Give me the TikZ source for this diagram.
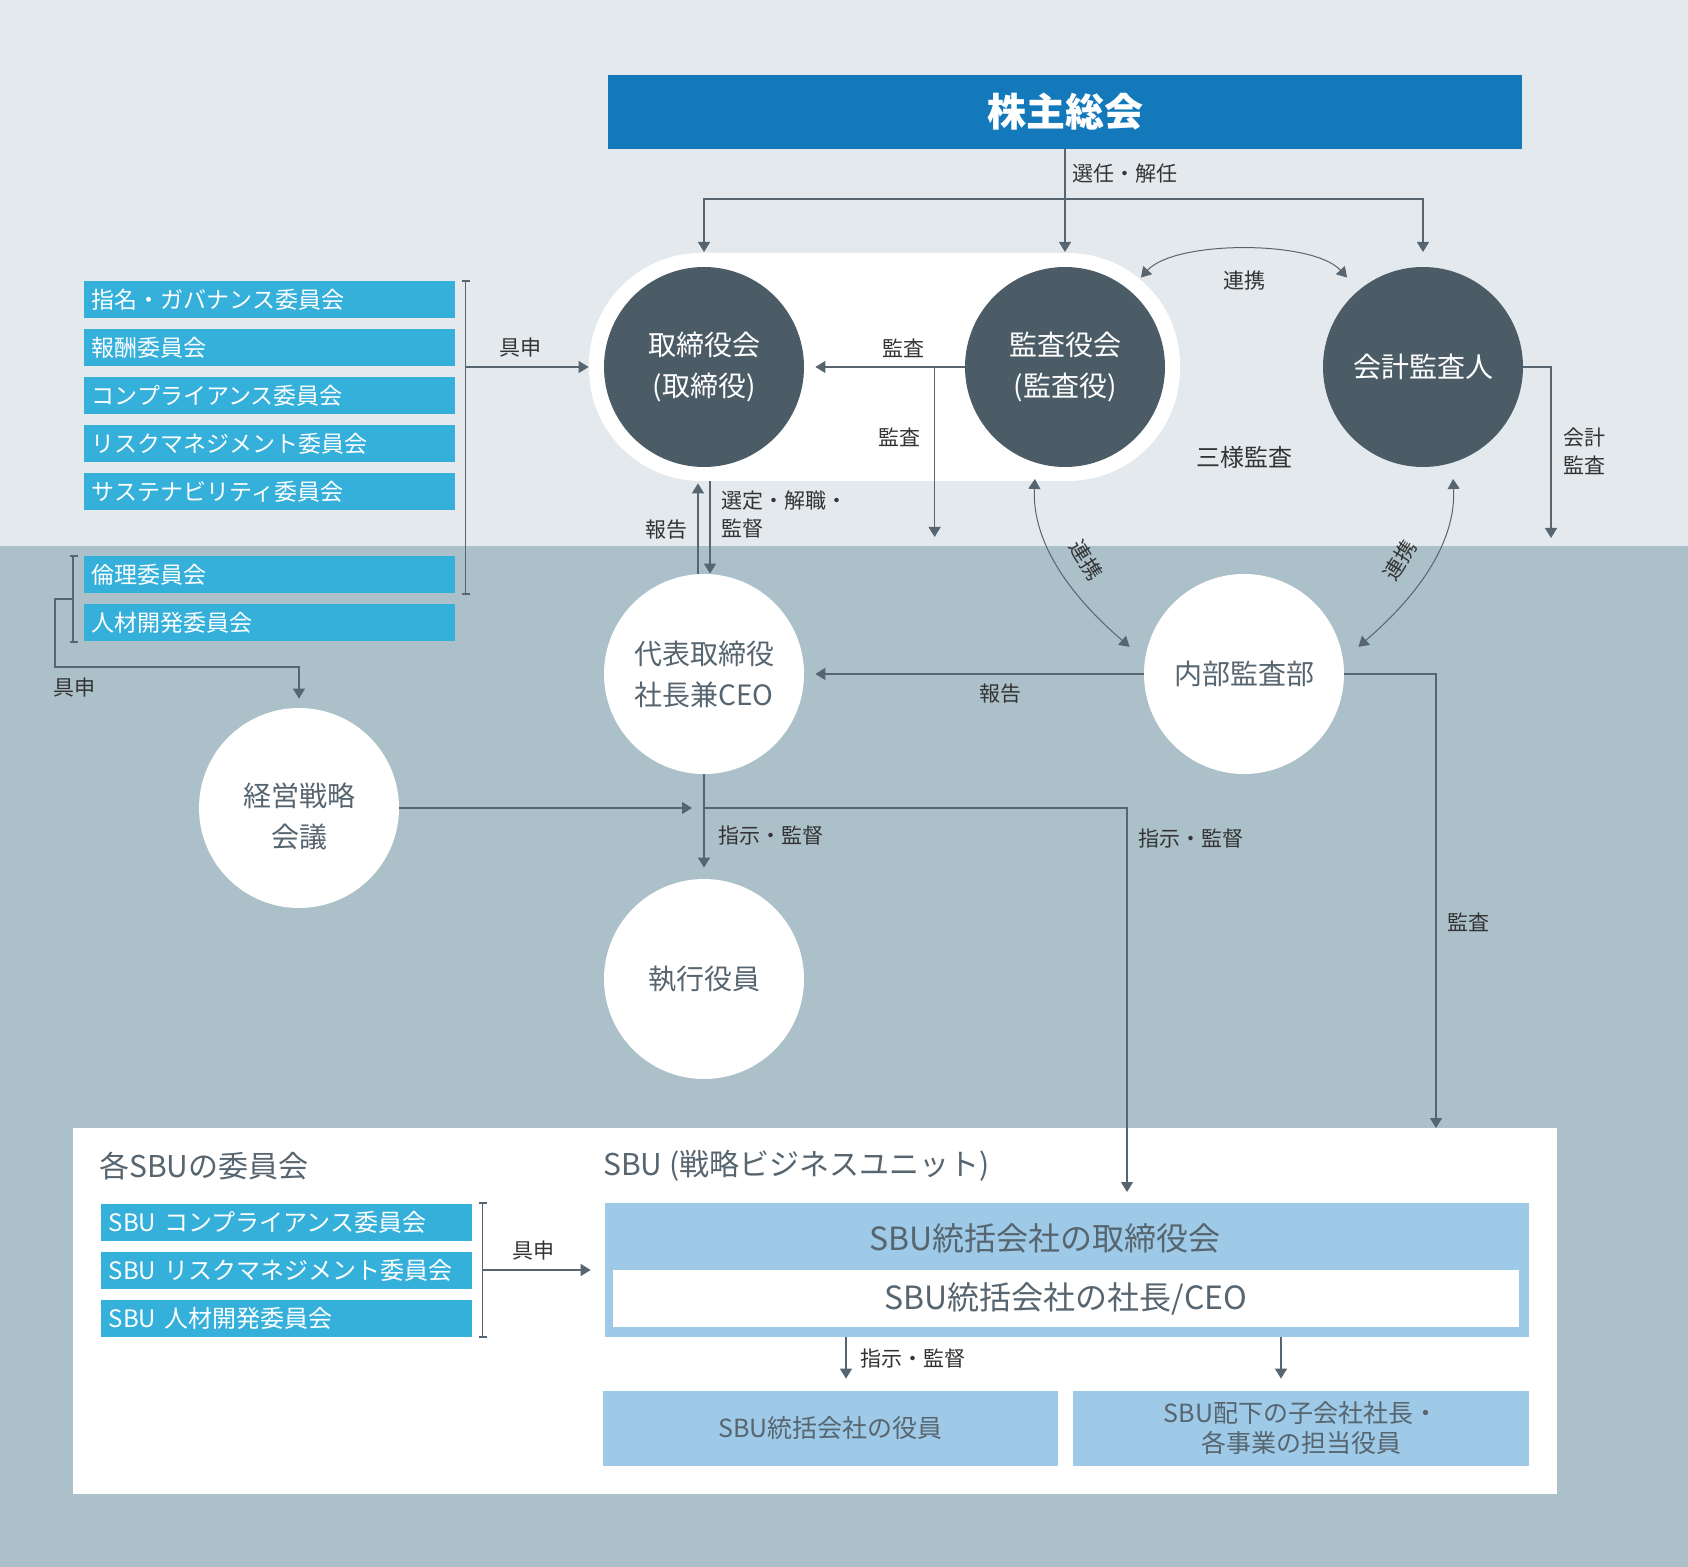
\documentclass[tikz,border=0pt]{standalone}
\usepackage{fontspec}
\setmainfont{Noto Sans CJK JP}
\usetikzlibrary{arrows.meta}

\definecolor{topbg}{HTML}{E4E9ED}
\definecolor{lowbg}{HTML}{ACC0CA}
\definecolor{gmblue}{HTML}{1479BA}
\definecolor{boardgray}{HTML}{4B5C67}
\definecolor{cmtblue}{HTML}{35B0DA}
\definecolor{sbublue}{HTML}{9ECAE7}
\definecolor{linecol}{HTML}{56656F}
\definecolor{softtext}{HTML}{56656F}
\definecolor{labeltext}{HTML}{333333}

\tikzset{
  dark/.style={circle, fill=boardgray, text=white, minimum size=100pt, inner sep=0pt, align=center, font=\fontsize{14}{20.5}\selectfont},
  light/.style={circle, fill=white, text=softtext, minimum size=100pt, inner sep=0pt, align=center, font=\fontsize{14}{20.5}\selectfont},
  cmt/.style={fill=cmtblue, text=white, anchor=west, minimum height=18.5pt, text width=178pt, inner xsep=3.75pt, inner ysep=0pt, align=left, font=\fontsize{11.5}{13}\selectfont},
  sbucmt/.style={cmt, font=\fontsize{12}{13}\selectfont},
  sbubox/.style={fill=sbublue, text=softtext, inner sep=0pt, align=center},
  lbl/.style={text=labeltext, inner sep=0pt, font=\fontsize{10.5}{14}\selectfont},
  line/.style={draw=linecol, line width=0.65pt},
  conn/.style={line, -{Triangle[length=5pt,width=6pt]}},
  twoway/.style={line, line width=0.5pt, {Triangle[length=5pt,width=6pt]}-{Triangle[length=5pt,width=6pt]}},
}

\begin{document}
\begin{tikzpicture}[x=0.5pt, y=-0.5pt]
    \useasboundingbox (0,0) rectangle (1688,1567);
    \fill[topbg] (0,0) rectangle (1688,546);
    \fill[lowbg] (0,546) rectangle (1688,1567);

    \fill[white, rounded corners=56pt] (589,253) rectangle (1180,481); %board and auditors sit on one white band
    \fill[white] (73,1128) rectangle (1557,1494); %SBU panel

    \node[fill=gmblue, text=white, minimum width=457pt, minimum height=37pt, font=\fontsize{19.5}{22}\selectfont\bfseries] (gm) at (1065,112) {株主総会};

    \node[dark] (board) at (704,367) {取締役会\\(取締役)};
    \node[dark] (auditors) at (1065,367) {監査役会\\(監査役)};
    \node[dark] (accountant) at (1423,367) {会計監査人};
    \node[light] (ceo) at (704,674) {代表取締役\\社長兼CEO};
    \node[light] (internal) at (1244,674) {内部監査部};
    \node[light, text height=40.5pt] (strategy) at (299,808) {経営戦略\\会議};
    \node[light] (officers) at (704,979) {執行役員};

    \node[cmt] (cmt1) at (84,300) {指名・ガバナンス委員会};
    \node[cmt] (cmt2) at (84,348) {報酬委員会};
    \node[cmt] (cmt3) at (84,396) {コンプライアンス委員会};
    \node[cmt] (cmt4) at (84,444) {リスクマネジメント委員会};
    \node[cmt] (cmt5) at (84,492) {サステナビリティ委員会};
    \node[cmt] (cmt6) at (84,575) {倫理委員会};
    \node[cmt] (cmt7) at (84,623) {人材開発委員会};

    % shareholders
    \coordinate (selrow) at (0,199);
    \coordinate (pilltop) at (0,252);
    \draw[conn] (gm.south) -- (gm.south |- pilltop);
    \draw[conn] (gm.south |- selrow) -| (board |- pilltop);
    \draw[conn] (gm.south |- selrow) -| (accountant |- pilltop);
    \node[lbl] (selectlbl) at (1125,174) {選任・解任};

    % committees
    \draw[line] ([xshift=3pt]cmt1.north east) -- ++(4pt,0) ([xshift=5pt]cmt1.north east) -- ([xshift=5pt]cmt6.south east) ([xshift=3pt]cmt6.south east) -- ++(4pt,0);
    \draw[conn, shorten >=7.5pt] ([xshift=5pt]cmt1.east |- board.west) -- (board.west);
    \node[lbl] (proposelbl) at (520,348) {具申};

    \draw[line] ([xshift=-7pt]cmt6.north west) -- ++(4pt,0) ([xshift=-5.5pt]cmt6.north west) -- ([xshift=-5.5pt]cmt7.south west) ([xshift=-7pt]cmt7.south west) -- ++(4pt,0);
    \coordinate (ethicsjoin) at (73,599);
    \draw[conn] (ethicsjoin) -- ++(-9pt,0) -- ++(0,-34pt) -| ([yshift=4.5pt]strategy.north);
    \node[lbl] (proposelbl2) at (75,688) {具申};

    % audit
    \draw[conn, shorten >=5.5pt] (auditors.west) -- (board.east);
    \draw[conn] ([xshift=-15pt]auditors.west) -- ++(0,-85pt);
    \node[lbl] (auditlbl1) at (903,348) {監査};
    \node[lbl] (auditlbl2) at (899,437) {監査};

    \draw[twoway, shorten <=8.5pt, shorten >=8.5pt] (auditors.50) .. controls (1175,240) and (1313,240) .. (accountant.130);
    \node[lbl] (linklbl1) at (1244,281) {連携};
    \node[lbl, font=\fontsize{12}{14}\selectfont] (threelbl) at (1244,457) {三様監査};

    \coordinate (acctaudit) at (1551,538);
    \draw[conn] (accountant.east) -| (acctaudit);
    \node[lbl, align=left] (acctlbl) at (1584,451) {会計\\監査};

    \draw[twoway, shorten <=8pt, shorten >=10pt] (auditors.253) .. controls (1031,560) and (1100,621) .. (internal.172);
    \draw[twoway, shorten <=8pt, shorten >=10pt] (accountant.287) .. controls (1457,560) and (1388,621) .. (internal.8);
    \node[lbl, rotate=-58] (linklbl2) at (1086,560) {連携};
    \node[lbl, rotate=58] (linklbl3) at (1400,560) {連携};

    % board and CEO
    \draw[conn] ([xshift=-3pt]ceo.north) -- ([xshift=-3pt,yshift=-8pt]board.south);
    \draw[conn] ([xshift=3pt,yshift=-7pt]board.south) -- ([xshift=3pt]ceo.north);
    \node[lbl] (reportlbl1) at (666,530) {報告};
    \node[lbl, anchor=west, align=left] (appointlbl) at (721,515) {選定・解職・\\監督};

    \draw[conn, shorten >=5.5pt] (internal.west) -- (ceo.east);
    \node[lbl] (reportlbl2) at (1000,694) {報告};

    \coordinate (panelaudit) at (1436,1128);
    \draw[conn] (internal.east) -| (panelaudit);
    \node[lbl] (auditlbl3) at (1468,922) {監査};

    \draw[conn, shorten >=6pt] (strategy.east) -- (strategy.east -| ceo.south);
    \draw[conn, shorten >=5.5pt] (ceo.south) -- (officers.north);
    \node[lbl, anchor=west] (directlbl1) at (718,836) {指示・監督};

    \coordinate (sbuin) at (1127,1192);
    \draw[conn] (ceo.south |- strategy) -| (sbuin);
    \node[lbl, anchor=west] (directlbl2) at (1138,839) {指示・監督};

    % SBU
    \node[anchor=west, inner sep=0pt, text=softtext, font=\fontsize{15}{18}\selectfont] (sbucmthead) at (99,1166) {各SBUの委員会};
    \node[anchor=west, inner sep=0pt, text=softtext, font=\fontsize{15}{18}\selectfont] (sbuhead) at (603,1166) {SBU (戦略ビジネスユニット)};

    \node[sbucmt] (sbucmt1) at (101,1222) {SBU コンプライアンス委員会};
    \node[sbucmt] (sbucmt2) at (101,1270) {SBU リスクマネジメント委員会};
    \node[sbucmt] (sbucmt3) at (101,1318) {SBU 人材開発委員会};

    \node[sbubox, minimum width=462pt, minimum height=67pt] (sbuboard) at (1067,1270) {};
    \node[text=softtext, inner sep=0pt, font=\fontsize{16}{18}\selectfont] (sbuboardname) at (1045,1238) {SBU統括会社の取締役会};
    \node[fill=white, text=softtext, minimum width=453pt, minimum height=28.5pt, font=\fontsize{16}{18}\selectfont] (sbuceo) at (1066,1298.5) {SBU統括会社の社長/CEO};

    \draw[line] ([xshift=3pt]sbucmt1.north east) -- ++(4pt,0) ([xshift=5pt]sbucmt1.north east) -- ([xshift=5pt]sbucmt3.south east) ([xshift=3pt]sbucmt3.south east) -- ++(4pt,0);
    \draw[conn, shorten >=7pt] ([xshift=5pt]sbucmt2.east) -- (sbuboard.west |- sbucmt2.east);
    \node[lbl] (proposelbl3) at (533,1251) {具申};

    \node[sbubox, minimum width=227.5pt, minimum height=37.5pt, font=\fontsize{12.5}{15}\selectfont] (sbuofficers) at (830.5,1428.5) {SBU統括会社の役員};
    \node[sbubox, minimum width=228pt, minimum height=37.5pt, font=\fontsize{12.5}{15}\selectfont] (sbusubs) at (1301,1428.5) {SBU配下の子会社社長・\\各事業の担当役員};

    \draw[conn, shorten >=6pt] ([xshift=7.75pt]sbuofficers.north |- sbuboard.south) -- ([xshift=7.75pt]sbuofficers.north);
    \draw[conn, shorten >=6pt] ([xshift=-10pt]sbusubs.north |- sbuboard.south) -- ([xshift=-10pt]sbusubs.north);
    \node[lbl, anchor=west] (directlbl3) at (860,1359) {指示・監督};
\end{tikzpicture}
\end{document}
